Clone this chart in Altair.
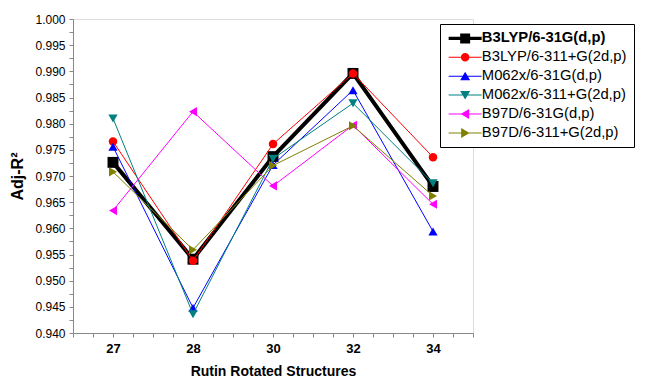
import json
import altair as alt
import pandas as pd

# ---------------- data ----------------
structures = ["27", "28", "30", "32", "34"]
series_names = [
    "B3LYP/6-31G(d,p)",
    "B3LYP/6-311+G(2d,p)",
    "M062x/6-31G(d,p)",
    "M062x/6-311+G(2d,p)",
    "B97D/6-31G(d,p)",
    "B97D/6-311+G(2d,p)",
]
b3lyp_631g = [0.9726, 0.9541, 0.9737, 0.9896, 0.9680]
b3lyp_6311 = [0.9766, 0.9538, 0.9761, 0.9896, 0.9736]
m062x_631g = [0.9756, 0.9448, 0.9721, 0.9864, 0.9594]
m062x_6311 = [0.9810, 0.9436, 0.9733, 0.9839, 0.9686]
b97d_631g = [0.9634, 0.9823, 0.9681, 0.9797, 0.9646]
b97d_6311 = [0.9708, 0.9559, 0.9720, 0.9796, 0.9662]
all_values = [b3lyp_631g, b3lyp_6311, m062x_631g, m062x_6311, b97d_631g, b97d_6311]

# ---------------- styles ----------------
colors = ["#000000", "#ff0000", "#0000ff", "#008080", "#ff00ff", "#808000"]
shapes = ["square", "circle", "triangle-up", "triangle-down", "triangle-left", "triangle-right"]
sizes = [120, 72, 85, 85, 85, 85]
widths = [4, 1, 1, 1, 1, 1]
FONT = "Liberation Sans"

rows = []
for name, vals in zip(series_names, all_values):
    for i, (s, v) in enumerate(zip(structures, vals)):
        rows.append({"series": name, "pos": i + 1, "structure": s, "value": v})
df = pd.DataFrame(rows)

# legend symbols: a line with the marker in the middle (custom paths, unit = sqrt(size)/2)
X0, X1, CX = -1.15, 5.45, 2.15


def line_rect(t):
    return f"M{X0},{-t}H{X1}V{t}H{X0}Z"


def marker_path(kind):
    c = CX
    if kind == "square":
        return f"M{c-1},-1H{c+1}V1H{c-1}Z"
    if kind == "circle":
        r = 0.85
        return f"M{c+r},0A{r},{r},0,1,1,{c-r},0A{r},{r},0,1,1,{c+r},0Z"
    if kind == "triangle-up":
        return f"M{c},-0.9L{c+1},0.8H{c-1}Z"
    if kind == "triangle-down":
        return f"M{c},0.9L{c-1},-0.8H{c+1}Z"
    if kind == "triangle-left":
        return f"M{c-0.9},0L{c+0.8},-1V1Z"
    return f"M{c+0.9},0L{c-0.8},1V-1Z"


legend_paths = []
for k, w in zip(shapes, widths):
    t = 0.32 if w > 2 else 0.1
    legend_paths.append(line_rect(t) + marker_path(k))

# ---------------- axes ----------------
x_ticks = [round(0.5 + 0.25 * k, 2) for k in range(21)]
x_label_expr = (
    "datum.value % 1 == 0 ? " + json.dumps(structures) + "[datum.value - 1] : ''"
)
y_ticks = [round(0.94 + 0.0025 * k, 4) for k in range(25)]
y_label_expr = "round(datum.value * 10000) % 50 == 0 ? format(datum.value, '.3f') : ''"

x_enc = alt.X(
    "pos:Q",
    scale=alt.Scale(domain=[0.5, 5.5], nice=False, zero=False),
    axis=alt.Axis(
        title="Rutin Rotated Structures",
        values=x_ticks,
        labelExpr=x_label_expr,
        labelOverlap=False,
        labelFlush=False,
        grid=False,
        tickSize=4,
        labelPadding=5,
        labelFontSize=13,
        labelFontWeight="bold",
        titleFontSize=14,
        titleFontWeight="bold",
        titlePadding=9,
    ),
)
y_enc = alt.Y(
    "value:Q",
    scale=alt.Scale(domain=[0.94, 1.0], nice=False, zero=False),
    axis=alt.Axis(
        title="Adj-R²",
        values=y_ticks,
        labelExpr=y_label_expr,
        labelOverlap=False,
        labelFlush=False,
        grid=False,
        tickSize=4,
        labelPadding=4,
        labelFontSize=12,
        titleFontSize=16,
        titleFontWeight="bold",
        titlePadding=9,
    ),
)

base = alt.Chart(df)
layers = []
for name, c, shp, sz, w in zip(series_names, colors, shapes, sizes, widths):
    sub = base.transform_filter(alt.datum.series == name)
    layers.append(sub.mark_line(color=c, strokeWidth=w).encode(x=x_enc, y=y_enc))
    layers.append(
        sub.mark_point(shape=shp, filled=True, size=sz, color=c, opacity=1).encode(
            x=x_enc, y=y_enc
        )
    )

# invisible (clipped, off-canvas) layer that only carries the legend
legend_layer = base.mark_point(filled=True, opacity=1, clip=True).encode(
    x=alt.value(-200),
    y=alt.value(-200),
    color=alt.Color(
        "series:N",
        scale=alt.Scale(domain=series_names, range=colors),
        legend=alt.Legend(
            title=None,
            orient="none",
            legendX=367,
            legendY=5,
            strokeColor="black",
            fillColor="white",
            padding=7,
            labelFont=FONT,
            labelFontSize=14.8,
            labelColor="black",
            labelFontWeight={"expr": "datum.value == '" + series_names[0] + "' ? 'bold' : 'normal'"},
            labelOffset=20,
            symbolSize=100,
            symbolStrokeWidth=0,
            symbolOpacity=1,
            rowPadding=2.9,
            labelLimit=300,
        ),
    ),
    shape=alt.Shape(
        "series:N",
        scale=alt.Scale(domain=series_names, range=legend_paths),
    ),
)
layers.append(legend_layer)

chart = (
    alt.layer(*layers)
    .properties(
        width=400,
        height=314,
        autosize=alt.AutoSizeParams(type="none"),
        padding={"left": 65, "top": 11, "right": 164, "bottom": 45},
    )
    .configure_view(stroke=None)
    .configure_axis(
        labelFont=FONT,
        titleFont=FONT,
        labelColor="#222222",
        titleColor="#222222",
        domainColor="black",
        tickColor="black",
        domainWidth=1,
        tickWidth=1,
    )
    .configure(background="white")
)

chart.save("out.html", embed_options={"renderer": "svg", "actions": False})
